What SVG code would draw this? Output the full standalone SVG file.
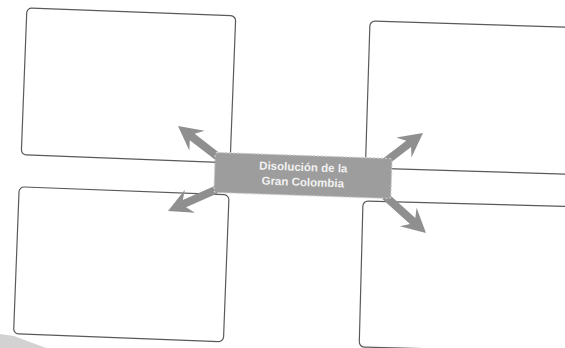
<svg xmlns="http://www.w3.org/2000/svg" width="565" height="348" viewBox="0 0 565 348">
  <style>
    .box { fill: #ffffff; stroke: #5a5a5a; stroke-width: 1.2; }
    .arrow { fill: #8f8f8f; }
    .center { fill: #9d9d9d; stroke: #cccccc; stroke-width: 1.3; stroke-dasharray: 2 2; }
    .label { font-family: "Liberation Sans", Arial, sans-serif; font-size: 11.5px; font-weight: bold; fill: #f2f2f2; text-anchor: middle; }
  </style>
  <defs>
    <path id="arr" d="M0,0 L-24,-12.5 L-18,-4 L-62,-4 L-62,4 L-18,4 L-24,12.5 Z"/>
  </defs>
  <rect x="0" y="0" width="565" height="348" fill="#ffffff"/>
  <polygon points="0,334 14,336 46,348 0,348" fill="#d2d2d2"/>

  <g id="box-top-left">
    <rect class="box" x="-104.5" y="-73.5" width="209" height="147" rx="5" transform="translate(128.5,85.3) rotate(2.2)"/>
  </g>
  <g id="box-top-right">
    <rect class="box" x="0" y="0" width="240" height="147" rx="5" transform="translate(370,21) rotate(1.8)"/>
  </g>
  <g id="box-bottom-left">
    <rect class="box" x="-105" y="-73.5" width="210" height="147" rx="5" transform="translate(121.3,264.3) rotate(2.2)"/>
  </g>
  <g id="box-bottom-right">
    <rect class="box" x="0" y="0" width="240" height="146" rx="5" transform="translate(363,201) rotate(1.5)"/>
  </g>

  <g id="connectors">
    <use href="#arr" class="arrow" transform="translate(178,126) rotate(217.7)"/>
    <use href="#arr" class="arrow" transform="translate(423,133) rotate(-37.3)"/>
    <use href="#arr" class="arrow" transform="translate(168,211) rotate(156.1)"/>
    <use href="#arr" class="arrow" transform="translate(426,233) rotate(42.1)"/>
  </g>

  <g id="center" transform="translate(303,175.5) rotate(2)">
    <rect class="center" x="-88.5" y="-20" width="177" height="40" rx="2"/>
    <text class="label" x="0" y="-4.5">Disolución de la</text>
    <text class="label" x="0" y="10.5">Gran Colombia</text>
  </g>
</svg>
